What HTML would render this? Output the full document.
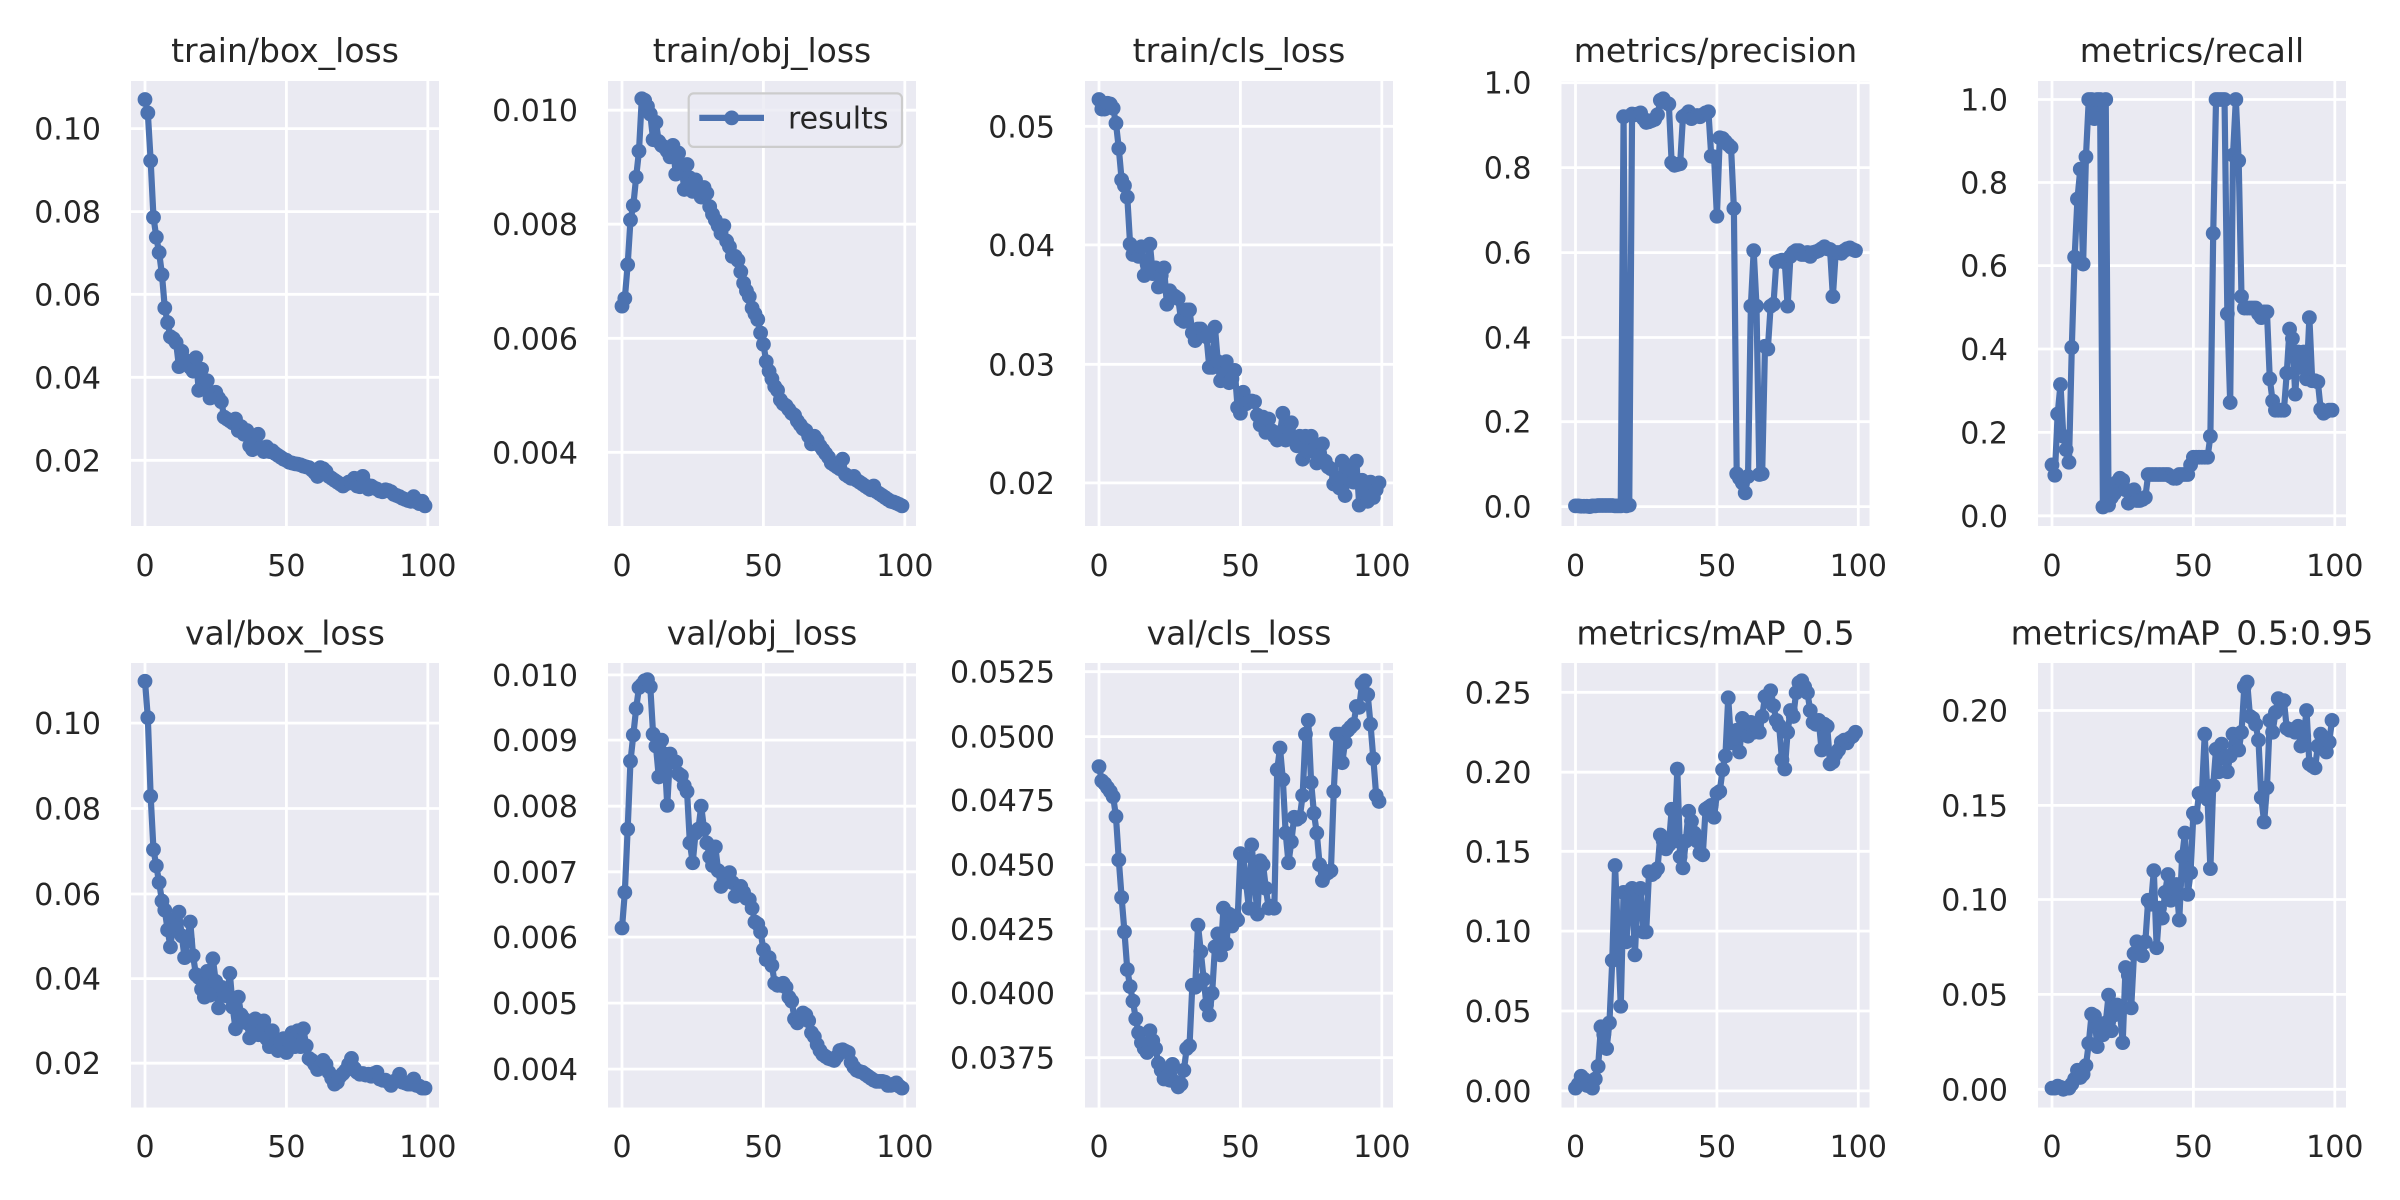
<!DOCTYPE html>
<html><head><meta charset="utf-8"><style>
html,body{margin:0;padding:0;background:#fff;}
svg{display:block;}
text{font-family:"DejaVu Sans","Liberation Sans",sans-serif;fill:#262626;}
.t{font-size:30px;}
.ti{font-size:33px;text-anchor:middle;}
.yl{text-anchor:end;}
.xl{text-anchor:middle;}
.bg{fill:#EAEAF2;}
.g{stroke:#fff;stroke-width:2.8;fill:none;}
.ln{fill:none;stroke:#4C72B0;stroke-width:6.2;stroke-linejoin:round;stroke-linecap:round;}
.mkt{fill:none;stroke:none;marker-start:url(#mt);marker-mid:url(#mt);marker-end:url(#mt);}
.mkb{fill:none;stroke:none;marker-start:url(#mb);marker-mid:url(#mb);marker-end:url(#mb);}
</style></head><body>
<svg width="2400" height="1200" viewBox="0 0 2400 1200" xmlns="http://www.w3.org/2000/svg">
<defs>
<marker id="mt" markerUnits="userSpaceOnUse" overflow="visible" refX="0" refY="0" markerWidth="1" markerHeight="1" orient="0"><ellipse cx="0" cy="0" rx="2.62" ry="19.35" fill="#4C72B0"/></marker>
<marker id="mb" markerUnits="userSpaceOnUse" overflow="visible" refX="0" refY="0" markerWidth="1" markerHeight="1" orient="0"><ellipse cx="0" cy="0" rx="2.62" ry="18.72" fill="#4C72B0"/></marker>
</defs>
<rect width="2400" height="1200" fill="#fff"/>

<!-- ============ P1 train/box_loss ============ -->
<rect class="bg" x="131" y="81" width="308" height="445"/>
<path class="g" d="M131 128.6H439M131 211.6H439M131 294.3H439M131 377.3H439M131 460.3H439M145 81V526M286.4 81V526M427.8 81V526"/>
<text class="t yl" x="101" y="139.6">0.10</text>
<text class="t yl" x="101" y="222.6">0.08</text>
<text class="t yl" x="101" y="305.3">0.06</text>
<text class="t yl" x="101" y="388.3">0.04</text>
<text class="t yl" x="101" y="471.3">0.02</text>
<text class="t xl" x="145" y="576">0</text>
<text class="t xl" x="286.4" y="576">50</text>
<text class="t xl" x="427.8" y="576">100</text>
<text class="ti" x="285" y="62">train/box_loss</text>
<g transform="translate(145,0) scale(2.8283,0.38266)">
<polyline class="ln" vector-effect="non-scaling-stroke" points="0,260 1,295 2,420 3,568 4,620 5,660 6,718 7,805 8,843 9,880 10,885 11,895 12,958 13,918 14,940 15,950 16,960 17,970 18,935 19,1020 20,965 21,1010 22,995 23,1040 24,1030 25,1025 26,1040 27,1050 28,1090 29,1095 30,1100 31,1105 32,1095 33,1125 34,1115 35,1135 36,1125 37,1165 38,1175 39,1150 40,1135 41,1170 42,1180 43,1168 44,1180 45,1178 46,1185 47,1190 48,1195 49,1200 50,1203 51,1208 52,1210 53,1212 54,1213 55,1215 56,1218 57,1220 58,1222 59,1228 60,1235 61,1245 62,1222 63,1225 64,1232 65,1245 66,1250 67,1255 68,1260 69,1265 70,1270 71,1265 72,1260 73,1262 74,1250 75,1270 76,1272 77,1245 78,1265 79,1278 80,1270 81,1275 82,1278 83,1283 84,1285 85,1280 86,1282 87,1285 88,1292 89,1295 90,1298 91,1302 92,1305 93,1308 94,1310 95,1298 96,1312 97,1316 98,1310 99,1322"/>
<polyline class="mkt" points="0,260 1,295 2,420 3,568 4,620 5,660 6,718 7,805 8,843 9,880 10,885 11,895 12,958 13,918 14,940 15,950 16,960 17,970 18,935 19,1020 20,965 21,1010 22,995 23,1040 24,1030 25,1025 26,1040 27,1050 28,1090 29,1095 30,1100 31,1105 32,1095 33,1125 34,1115 35,1135 36,1125 37,1165 38,1175 39,1150 40,1135 41,1170 42,1180 43,1168 44,1180 45,1178 46,1185 47,1190 48,1195 49,1200 50,1203 51,1208 52,1210 53,1212 54,1213 55,1215 56,1218 57,1220 58,1222 59,1228 60,1235 61,1245 62,1222 63,1225 64,1232 65,1245 66,1250 67,1255 68,1260 69,1265 70,1270 71,1265 72,1260 73,1262 74,1250 75,1270 76,1272 77,1245 78,1265 79,1278 80,1270 81,1275 82,1278 83,1283 84,1285 85,1280 86,1282 87,1285 88,1292 89,1295 90,1298 91,1302 92,1305 93,1308 94,1310 95,1298 96,1312 97,1316 98,1310 99,1322"/>
</g>

<!-- ============ P2 train/obj_loss ============ -->
<rect class="bg" x="608" y="81" width="308" height="445"/>
<path class="g" d="M608 110.2H916M608 224.2H916M608 338.3H916M608 452.3H916M622 81V526M763.4 81V526M904.8 81V526"/>
<text class="t yl" x="578" y="121.2">0.010</text>
<text class="t yl" x="578" y="235.2">0.008</text>
<text class="t yl" x="578" y="349.3">0.006</text>
<text class="t yl" x="578" y="463.3">0.004</text>
<text class="t xl" x="622" y="576">0</text>
<text class="t xl" x="763.4" y="576">50</text>
<text class="t xl" x="904.8" y="576">100</text>
<text class="ti" x="762" y="62">train/obj_loss</text>
<g transform="translate(622,0) scale(2.8283,0.38266)">
<polyline class="ln" vector-effect="non-scaling-stroke" points="0,800 1,780 2,692 3,575 4,537 5,463 6,395 7,258 8,262 9,278 10,298 11,365 12,320 13,370 14,380 15,385 16,395 17,410 18,380 19,455 20,400 21,430 22,495 23,430 24,465 25,500 26,470 27,490 28,515 29,490 30,505 31,540 32,560 33,575 34,590 35,610 36,590 37,630 38,645 39,670 40,670 41,680 42,710 43,740 44,760 45,775 46,805 47,820 48,835 49,870 50,900 51,945 52,970 53,990 54,1010 55,1020 56,1045 57,1055 58,1060 59,1070 60,1080 61,1085 62,1100 63,1110 64,1120 65,1125 66,1140 67,1160 68,1140 69,1150 70,1165 71,1175 72,1185 73,1195 74,1210 75,1215 76,1220 77,1225 78,1200 79,1240 80,1245 81,1250 82,1245 83,1255 84,1260 85,1265 86,1270 87,1275 88,1280 89,1270 90,1285 91,1290 92,1295 93,1300 94,1305 95,1310 96,1312 97,1315 98,1318 99,1322"/>
<polyline class="mkt" points="0,800 1,780 2,692 3,575 4,537 5,463 6,395 7,258 8,262 9,278 10,298 11,365 12,320 13,370 14,380 15,385 16,395 17,410 18,380 19,455 20,400 21,430 22,495 23,430 24,465 25,500 26,470 27,490 28,515 29,490 30,505 31,540 32,560 33,575 34,590 35,610 36,590 37,630 38,645 39,670 40,670 41,680 42,710 43,740 44,760 45,775 46,805 47,820 48,835 49,870 50,900 51,945 52,970 53,990 54,1010 55,1020 56,1045 57,1055 58,1060 59,1070 60,1080 61,1085 62,1100 63,1110 64,1120 65,1125 66,1140 67,1160 68,1140 69,1150 70,1165 71,1175 72,1185 73,1195 74,1210 75,1215 76,1220 77,1225 78,1200 79,1240 80,1245 81,1250 82,1245 83,1255 84,1260 85,1265 86,1270 87,1275 88,1280 89,1270 90,1285 91,1290 92,1295 93,1300 94,1305 95,1310 96,1312 97,1315 98,1318 99,1322"/>
</g>
<rect x="688.7" y="93.4" width="213.3" height="53.5" rx="5" ry="5" fill="#EAEAF2" fill-opacity="0.8" stroke="#CCCCCC" stroke-width="2.2"/>
<line x1="699.3" y1="117.9" x2="764" y2="117.9" stroke="#4C72B0" stroke-width="6.2"/>
<circle cx="731.7" cy="117.9" r="7.4" fill="#4C72B0"/>
<text class="t" x="788" y="128.5">results</text>

<!-- ============ P3 train/cls_loss ============ -->
<rect class="bg" x="1085" y="81" width="308" height="445"/>
<path class="g" d="M1085 126.3H1393M1085 244.9H1393M1085 364.3H1393M1085 482.9H1393M1099 81V526M1240.4 81V526M1381.8 81V526"/>
<text class="t yl" x="1055" y="137.3">0.05</text>
<text class="t yl" x="1055" y="255.9">0.04</text>
<text class="t yl" x="1055" y="375.3">0.03</text>
<text class="t yl" x="1055" y="493.9">0.02</text>
<text class="t xl" x="1099" y="576">0</text>
<text class="t xl" x="1240.4" y="576">50</text>
<text class="t xl" x="1381.8" y="576">100</text>
<text class="ti" x="1239" y="62">train/cls_loss</text>
<g transform="translate(1099,0) scale(2.8283,0.38266)">
<polyline class="ln" vector-effect="non-scaling-stroke" points="0,260 1,285 2,285 3,270 4,272 5,283 6,322 7,388 8,470 9,485 10,515 11,638 12,665 13,650 14,670 15,645 16,720 17,690 18,638 19,715 20,700 21,750 22,720 23,700 24,795 25,760 26,770 27,775 28,780 29,835 30,840 31,810 32,810 33,870 34,890 35,860 36,860 37,870 38,880 39,960 40,960 41,855 42,945 43,995 44,975 45,945 46,1000 47,990 48,968 49,1065 50,1080 51,1025 52,1055 53,1050 54,1048 55,1050 56,1085 57,1110 58,1090 59,1130 60,1095 61,1125 62,1140 63,1150 64,1130 65,1080 66,1150 67,1120 68,1105 69,1150 70,1165 71,1140 72,1200 73,1140 74,1180 75,1140 76,1175 77,1210 78,1190 79,1160 80,1205 81,1220 82,1225 83,1265 84,1250 85,1275 86,1205 87,1295 88,1250 89,1225 90,1260 91,1205 92,1320 93,1255 94,1280 95,1310 96,1260 97,1300 98,1280 99,1262"/>
<polyline class="mkt" points="0,260 1,285 2,285 3,270 4,272 5,283 6,322 7,388 8,470 9,485 10,515 11,638 12,665 13,650 14,670 15,645 16,720 17,690 18,638 19,715 20,700 21,750 22,720 23,700 24,795 25,760 26,770 27,775 28,780 29,835 30,840 31,810 32,810 33,870 34,890 35,860 36,860 37,870 38,880 39,960 40,960 41,855 42,945 43,995 44,975 45,945 46,1000 47,990 48,968 49,1065 50,1080 51,1025 52,1055 53,1050 54,1048 55,1050 56,1085 57,1110 58,1090 59,1130 60,1095 61,1125 62,1140 63,1150 64,1130 65,1080 66,1150 67,1120 68,1105 69,1150 70,1165 71,1140 72,1200 73,1140 74,1180 75,1140 76,1175 77,1210 78,1190 79,1160 80,1205 81,1220 82,1225 83,1265 84,1250 85,1275 86,1205 87,1295 88,1250 89,1225 90,1260 91,1205 92,1320 93,1255 94,1280 95,1310 96,1260 97,1300 98,1280 99,1262"/>
</g>

<!-- ============ P4 metrics/precision ============ -->
<rect class="bg" x="1561.5" y="81" width="308" height="445"/>
<path class="g" d="M1561.5 82.7H1869.5M1561.5 167.6H1869.5M1561.5 252.6H1869.5M1561.5 337.5H1869.5M1561.5 421.7H1869.5M1561.5 506.6H1869.5M1575.5 81V526M1716.9 81V526M1858.3 81V526"/>
<text class="t yl" x="1531.5" y="93.7">1.0</text>
<text class="t yl" x="1531.5" y="178.6">0.8</text>
<text class="t yl" x="1531.5" y="263.6">0.6</text>
<text class="t yl" x="1531.5" y="348.5">0.4</text>
<text class="t yl" x="1531.5" y="432.7">0.2</text>
<text class="t yl" x="1531.5" y="517.6">0.0</text>
<text class="t xl" x="1575.5" y="576">0</text>
<text class="t xl" x="1716.9" y="576">50</text>
<text class="t xl" x="1858.3" y="576">100</text>
<text class="ti" x="1715.5" y="62">metrics/precision</text>
<g transform="translate(1575.5,0) scale(2.8283,0.38266)">
<polyline class="ln" vector-effect="non-scaling-stroke" points="0,1322 1,1322 2,1323 3,1323 4,1323 5,1324 6,1322 7,1322 8,1321 9,1321 10,1321 11,1321 12,1321 13,1321 14,1322 15,1322 16,1322 17,305 18,1322 19,1320 20,298 21,300 22,298 23,295 24,310 25,320 26,318 27,315 28,312 29,300 30,262 31,258 32,268 33,272 34,425 35,432 36,430 37,428 38,305 39,300 40,292 41,310 42,305 43,302 44,305 45,300 46,295 47,292 48,408 49,410 50,565 51,360 52,362 53,370 54,378 55,385 56,545 57,1238 58,1250 59,1262 60,1288 61,1245 62,800 63,655 64,800 65,1240 66,1238 67,905 68,912 69,800 70,795 71,685 72,682 73,680 74,685 75,800 76,670 77,660 78,655 79,655 80,665 81,665 82,660 83,670 84,660 85,658 86,655 87,650 88,645 89,650 90,652 91,775 92,660 93,660 94,662 95,655 96,650 97,648 98,652 99,655"/>
<polyline class="mkt" points="0,1322 1,1322 2,1323 3,1323 4,1323 5,1324 6,1322 7,1322 8,1321 9,1321 10,1321 11,1321 12,1321 13,1321 14,1322 15,1322 16,1322 17,305 18,1322 19,1320 20,298 21,300 22,298 23,295 24,310 25,320 26,318 27,315 28,312 29,300 30,262 31,258 32,268 33,272 34,425 35,432 36,430 37,428 38,305 39,300 40,292 41,310 42,305 43,302 44,305 45,300 46,295 47,292 48,408 49,410 50,565 51,360 52,362 53,370 54,378 55,385 56,545 57,1238 58,1250 59,1262 60,1288 61,1245 62,800 63,655 64,800 65,1240 66,1238 67,905 68,912 69,800 70,795 71,685 72,682 73,680 74,685 75,800 76,670 77,660 78,655 79,655 80,665 81,665 82,660 83,670 84,660 85,658 86,655 87,650 88,645 89,650 90,652 91,775 92,660 93,660 94,662 95,655 96,650 97,648 98,652 99,655"/>
</g>

<!-- ============ P5 metrics/recall ============ -->
<rect class="bg" x="2038" y="81" width="308" height="445"/>
<path class="g" d="M2038 99.5H2346M2038 182.5H2346M2038 265.6H2346M2038 349H2346M2038 432.4H2346M2038 515.8H2346M2052 81V526M2193.4 81V526M2334.8 81V526"/>
<text class="t yl" x="2008" y="110.5">1.0</text>
<text class="t yl" x="2008" y="193.5">0.8</text>
<text class="t yl" x="2008" y="276.6">0.6</text>
<text class="t yl" x="2008" y="360">0.4</text>
<text class="t yl" x="2008" y="443.4">0.2</text>
<text class="t yl" x="2008" y="526.8">0.0</text>
<text class="t xl" x="2052" y="576">0</text>
<text class="t xl" x="2193.4" y="576">50</text>
<text class="t xl" x="2334.8" y="576">100</text>
<text class="ti" x="2192" y="62">metrics/recall</text>
<g transform="translate(2052,0) scale(2.8283,0.38266)">
<polyline class="ln" vector-effect="non-scaling-stroke" points="0,1215 1,1242 2,1082 3,1005 4,1140 5,1175 6,1208 7,908 8,672 9,520 10,442 11,690 12,410 13,260 14,260 15,310 16,260 17,260 18,1325 19,260 20,1320 21,1300 22,1290 23,1260 24,1250 25,1255 26,1280 27,1315 28,1295 29,1280 30,1308 31,1308 32,1305 33,1300 34,1240 35,1240 36,1240 37,1240 38,1240 39,1240 40,1240 41,1240 42,1245 43,1250 44,1250 45,1240 46,1240 47,1240 48,1240 49,1215 50,1195 51,1195 52,1195 53,1195 54,1195 55,1195 56,1140 57,610 58,260 59,260 60,260 61,260 62,820 63,1052 64,405 65,260 66,420 67,775 68,805 69,805 70,805 71,805 72,805 73,820 74,830 75,815 76,815 77,990 78,1048 79,1072 80,1072 81,1072 82,1072 83,975 84,860 85,885 86,1030 87,920 88,960 89,920 90,990 91,830 92,995 93,995 94,998 95,1070 96,1080 97,1075 98,1072 99,1072"/>
<polyline class="mkt" points="0,1215 1,1242 2,1082 3,1005 4,1140 5,1175 6,1208 7,908 8,672 9,520 10,442 11,690 12,410 13,260 14,260 15,310 16,260 17,260 18,1325 19,260 20,1320 21,1300 22,1290 23,1260 24,1250 25,1255 26,1280 27,1315 28,1295 29,1280 30,1308 31,1308 32,1305 33,1300 34,1240 35,1240 36,1240 37,1240 38,1240 39,1240 40,1240 41,1240 42,1245 43,1250 44,1250 45,1240 46,1240 47,1240 48,1240 49,1215 50,1195 51,1195 52,1195 53,1195 54,1195 55,1195 56,1140 57,610 58,260 59,260 60,260 61,260 62,820 63,1052 64,405 65,260 66,420 67,775 68,805 69,805 70,805 71,805 72,805 73,820 74,830 75,815 76,815 77,990 78,1048 79,1072 80,1072 81,1072 82,1072 83,975 84,860 85,885 86,1030 87,920 88,960 89,920 90,990 91,830 92,995 93,995 94,998 95,1070 96,1080 97,1075 98,1072 99,1072"/>
</g>

<!-- ============ P6 val/box_loss ============ -->
<rect class="bg" x="131" y="663" width="308" height="444.5"/>
<path class="g" d="M131 723.1H439M131 808.5H439M131 894H439M131 978.6H439M131 1063.2H439M145 663V1107.5M286.4 663V1107.5M427.8 663V1107.5"/>
<text class="t yl" x="101" y="734.1">0.10</text>
<text class="t yl" x="101" y="819.5">0.08</text>
<text class="t yl" x="101" y="905">0.06</text>
<text class="t yl" x="101" y="989.6">0.04</text>
<text class="t yl" x="101" y="1074.2">0.02</text>
<text class="t xl" x="145" y="1157">0</text>
<text class="t xl" x="286.4" y="1157">50</text>
<text class="t xl" x="427.8" y="1157">100</text>
<text class="ti" x="285" y="644.5">val/box_loss</text>
<g transform="translate(145,580) scale(2.8283,0.39541)">
<polyline class="ln" vector-effect="non-scaling-stroke" points="0,256 1,348 2,547 3,682 4,723 5,765 6,812 7,835 8,885 9,928 10,860 11,880 12,840 13,900 14,955 15,910 16,865 17,950 18,998 19,1005 20,1035 21,1055 22,990 23,1050 24,958 25,1015 26,1082 27,1030 28,1045 29,1052 30,995 31,1080 32,1135 33,1055 34,1100 35,1110 36,1120 37,1158 38,1135 39,1110 40,1150 41,1120 42,1115 43,1160 44,1180 45,1140 46,1175 47,1190 48,1170 49,1160 50,1195 51,1165 52,1145 53,1180 54,1140 55,1180 56,1135 57,1178 58,1210 59,1215 60,1225 61,1238 62,1230 63,1215 64,1225 65,1245 66,1260 67,1275 68,1270 69,1255 70,1248 71,1240 72,1225 73,1210 74,1235 75,1245 76,1250 77,1248 78,1252 79,1250 80,1255 81,1248 82,1245 83,1262 84,1265 85,1265 86,1270 87,1278 88,1268 89,1265 90,1250 91,1270 92,1272 93,1275 94,1275 95,1262 96,1278 97,1280 98,1285 99,1285"/>
<polyline class="mkb" points="0,256 1,348 2,547 3,682 4,723 5,765 6,812 7,835 8,885 9,928 10,860 11,880 12,840 13,900 14,955 15,910 16,865 17,950 18,998 19,1005 20,1035 21,1055 22,990 23,1050 24,958 25,1015 26,1082 27,1030 28,1045 29,1052 30,995 31,1080 32,1135 33,1055 34,1100 35,1110 36,1120 37,1158 38,1135 39,1110 40,1150 41,1120 42,1115 43,1160 44,1180 45,1140 46,1175 47,1190 48,1170 49,1160 50,1195 51,1165 52,1145 53,1180 54,1140 55,1180 56,1135 57,1178 58,1210 59,1215 60,1225 61,1238 62,1230 63,1215 64,1225 65,1245 66,1260 67,1275 68,1270 69,1255 70,1248 71,1240 72,1225 73,1210 74,1235 75,1245 76,1250 77,1248 78,1252 79,1250 80,1255 81,1248 82,1245 83,1262 84,1265 85,1265 86,1270 87,1278 88,1268 89,1265 90,1250 91,1270 92,1272 93,1275 94,1275 95,1262 96,1278 97,1280 98,1285 99,1285"/>
</g>

<!-- ============ P7 val/obj_loss ============ -->
<rect class="bg" x="608" y="663" width="308" height="444.5"/>
<path class="g" d="M608 674.9H916M608 740.1H916M608 806.2H916M608 871.8H916M608 937.1H916M608 1003.1H916M608 1069.1H916M622 663V1107.5M763.4 663V1107.5M904.8 663V1107.5"/>
<text class="t yl" x="578" y="685.9">0.010</text>
<text class="t yl" x="578" y="751.1">0.009</text>
<text class="t yl" x="578" y="817.2">0.008</text>
<text class="t yl" x="578" y="882.8">0.007</text>
<text class="t yl" x="578" y="948.1">0.006</text>
<text class="t yl" x="578" y="1014.1">0.005</text>
<text class="t yl" x="578" y="1080.1">0.004</text>
<text class="t xl" x="622" y="1157">0</text>
<text class="t xl" x="763.4" y="1157">50</text>
<text class="t xl" x="904.8" y="1157">100</text>
<text class="ti" x="762" y="644.5">val/obj_loss</text>
<g transform="translate(622,580) scale(2.8283,0.39541)">
<polyline class="ln" vector-effect="non-scaling-stroke" points="0,880 1,790 2,630 3,458 4,392 5,325 6,272 7,265 8,255 9,252 10,270 11,390 12,420 13,498 14,405 15,440 16,570 17,440 18,460 19,460 20,490 21,495 22,520 23,535 24,665 25,715 26,640 27,630 28,572 29,630 30,665 31,700 32,722 33,675 34,735 35,775 36,745 37,752 38,740 39,765 40,800 41,790 42,775 43,790 44,805 45,808 46,830 47,865 48,870 49,890 50,935 51,960 52,955 53,975 54,1020 55,1025 56,1025 57,1020 58,1030 59,1055 60,1065 61,1110 62,1120 63,1110 64,1095 65,1100 66,1115 67,1145 68,1155 69,1175 70,1190 71,1200 72,1205 73,1210 74,1212 75,1215 76,1205 77,1190 78,1188 79,1192 80,1195 81,1220 82,1232 83,1240 84,1243 85,1245 86,1250 87,1255 88,1260 89,1265 90,1268 91,1268 92,1268 93,1270 94,1278 95,1278 96,1275 97,1272 98,1280 99,1285"/>
<polyline class="mkb" points="0,880 1,790 2,630 3,458 4,392 5,325 6,272 7,265 8,255 9,252 10,270 11,390 12,420 13,498 14,405 15,440 16,570 17,440 18,460 19,460 20,490 21,495 22,520 23,535 24,665 25,715 26,640 27,630 28,572 29,630 30,665 31,700 32,722 33,675 34,735 35,775 36,745 37,752 38,740 39,765 40,800 41,790 42,775 43,790 44,805 45,808 46,830 47,865 48,870 49,890 50,935 51,960 52,955 53,975 54,1020 55,1025 56,1025 57,1020 58,1030 59,1055 60,1065 61,1110 62,1120 63,1110 64,1095 65,1100 66,1115 67,1145 68,1155 69,1175 70,1190 71,1200 72,1205 73,1210 74,1212 75,1215 76,1205 77,1190 78,1188 79,1192 80,1195 81,1220 82,1232 83,1240 84,1243 85,1245 86,1250 87,1255 88,1260 89,1265 90,1268 91,1268 92,1268 93,1270 94,1278 95,1278 96,1275 97,1272 98,1280 99,1285"/>
</g>

<!-- ============ P8 val/cls_loss ============ -->
<rect class="bg" x="1085" y="663" width="308" height="444.5"/>
<path class="g" d="M1085 671.7H1393M1085 736.6H1393M1085 800.2H1393M1085 864.7H1393M1085 928.8H1393M1085 993.2H1393M1085 1057.7H1393M1099 663V1107.5M1240.4 663V1107.5M1381.8 663V1107.5"/>
<text class="t yl" x="1055" y="682.7">0.0525</text>
<text class="t yl" x="1055" y="747.6">0.0500</text>
<text class="t yl" x="1055" y="811.2">0.0475</text>
<text class="t yl" x="1055" y="875.7">0.0450</text>
<text class="t yl" x="1055" y="939.8">0.0425</text>
<text class="t yl" x="1055" y="1004.2">0.0400</text>
<text class="t yl" x="1055" y="1068.7">0.0375</text>
<text class="t xl" x="1099" y="1157">0</text>
<text class="t xl" x="1240.4" y="1157">50</text>
<text class="t xl" x="1381.8" y="1157">100</text>
<text class="ti" x="1239" y="644.5">val/cls_loss</text>
<g transform="translate(1099,580) scale(2.8283,0.39541)">
<polyline class="ln" vector-effect="non-scaling-stroke" points="0,472 1,508 2,515 3,525 4,535 5,548 6,598 7,708 8,803 9,890 10,985 11,1028 12,1065 13,1110 14,1145 15,1170 16,1185 17,1195 18,1140 19,1165 20,1185 21,1222 22,1240 23,1262 24,1255 25,1265 26,1225 27,1270 28,1282 29,1275 30,1240 31,1185 32,1178 33,1025 34,1030 35,873 36,940 37,1010 38,1075 39,1100 40,1045 41,928 42,895 43,948 44,830 45,920 46,845 47,875 48,850 49,860 50,692 51,700 52,765 53,830 54,670 55,762 56,845 57,710 58,720 59,780 60,830 61,825 62,830 63,480 64,425 65,505 66,640 67,715 68,662 69,600 70,605 71,600 72,545 73,390 74,355 75,512 76,590 77,640 78,720 79,760 80,745 81,740 82,735 83,535 84,390 85,390 86,462 87,410 88,380 89,372 90,365 91,320 92,322 93,262 94,255 95,290 96,365 97,452 98,545 99,560"/>
<polyline class="mkb" points="0,472 1,508 2,515 3,525 4,535 5,548 6,598 7,708 8,803 9,890 10,985 11,1028 12,1065 13,1110 14,1145 15,1170 16,1185 17,1195 18,1140 19,1165 20,1185 21,1222 22,1240 23,1262 24,1255 25,1265 26,1225 27,1270 28,1282 29,1275 30,1240 31,1185 32,1178 33,1025 34,1030 35,873 36,940 37,1010 38,1075 39,1100 40,1045 41,928 42,895 43,948 44,830 45,920 46,845 47,875 48,850 49,860 50,692 51,700 52,765 53,830 54,670 55,762 56,845 57,710 58,720 59,780 60,830 61,825 62,830 63,480 64,425 65,505 66,640 67,715 68,662 69,600 70,605 71,600 72,545 73,390 74,355 75,512 76,590 77,640 78,720 79,760 80,745 81,740 82,735 83,535 84,390 85,390 86,462 87,410 88,380 89,372 90,365 91,320 92,322 93,262 94,255 95,290 96,365 97,452 98,545 99,560"/>
</g>

<!-- ============ P9 metrics/mAP_0.5 ============ -->
<rect class="bg" x="1561.5" y="663" width="308" height="444.5"/>
<path class="g" d="M1561.5 692.3H1869.5M1561.5 772.2H1869.5M1561.5 851.3H1869.5M1561.5 931.1H1869.5M1561.5 1011H1869.5M1561.5 1090.9H1869.5M1575.5 663V1107.5M1716.9 663V1107.5M1858.3 663V1107.5"/>
<text class="t yl" x="1531.5" y="703.3">0.25</text>
<text class="t yl" x="1531.5" y="783.2">0.20</text>
<text class="t yl" x="1531.5" y="862.3">0.15</text>
<text class="t yl" x="1531.5" y="942.1">0.10</text>
<text class="t yl" x="1531.5" y="1022">0.05</text>
<text class="t yl" x="1531.5" y="1101.9">0.00</text>
<text class="t xl" x="1575.5" y="1157">0</text>
<text class="t xl" x="1716.9" y="1157">50</text>
<text class="t xl" x="1858.3" y="1157">100</text>
<text class="ti" x="1715.5" y="644.5">metrics/mAP_0.5</text>
<g transform="translate(1575.5,580) scale(2.8283,0.39541)">
<polyline class="ln" vector-effect="non-scaling-stroke" points="0,1285 1,1275 2,1255 3,1262 4,1278 5,1280 6,1285 7,1262 8,1230 9,1130 10,1150 11,1185 12,1120 13,962 14,722 15,900 16,1078 17,790 18,915 19,800 20,780 21,948 22,790 23,780 24,890 25,890 26,738 27,745 28,740 29,730 30,645 31,660 32,680 33,670 34,580 35,660 36,478 37,700 38,728 39,660 40,585 41,610 42,640 43,660 44,690 45,695 46,580 47,575 48,570 49,600 50,540 51,535 52,480 53,445 54,298 55,412 56,400 57,380 58,435 59,350 60,360 61,395 62,360 63,385 64,370 65,385 66,345 67,295 68,300 69,280 70,318 71,355 72,368 73,455 74,478 75,385 76,330 77,345 78,285 79,260 80,255 81,270 82,285 83,330 84,360 85,365 86,355 87,430 88,365 89,370 90,465 91,460 92,440 93,430 94,410 95,405 96,412 97,400 98,395 99,385"/>
<polyline class="mkb" points="0,1285 1,1275 2,1255 3,1262 4,1278 5,1280 6,1285 7,1262 8,1230 9,1130 10,1150 11,1185 12,1120 13,962 14,722 15,900 16,1078 17,790 18,915 19,800 20,780 21,948 22,790 23,780 24,890 25,890 26,738 27,745 28,740 29,730 30,645 31,660 32,680 33,670 34,580 35,660 36,478 37,700 38,728 39,660 40,585 41,610 42,640 43,660 44,690 45,695 46,580 47,575 48,570 49,600 50,540 51,535 52,480 53,445 54,298 55,412 56,400 57,380 58,435 59,350 60,360 61,395 62,360 63,385 64,370 65,385 66,345 67,295 68,300 69,280 70,318 71,355 72,368 73,455 74,478 75,385 76,330 77,345 78,285 79,260 80,255 81,270 82,285 83,330 84,360 85,365 86,355 87,430 88,365 89,370 90,465 91,460 92,440 93,430 94,410 95,405 96,412 97,400 98,395 99,385"/>
</g>

<!-- ============ P10 metrics/mAP_0.5:0.95 ============ -->
<rect class="bg" x="2038" y="663" width="308" height="444.5"/>
<path class="g" d="M2038 710.5H2346M2038 805.4H2346M2038 899.5H2346M2038 994.4H2346M2038 1089.3H2346M2052 663V1107.5M2193.4 663V1107.5M2334.8 663V1107.5"/>
<text class="t yl" x="2008" y="721.5">0.20</text>
<text class="t yl" x="2008" y="816.4">0.15</text>
<text class="t yl" x="2008" y="910.5">0.10</text>
<text class="t yl" x="2008" y="1005.4">0.05</text>
<text class="t yl" x="2008" y="1100.3">0.00</text>
<text class="t xl" x="2052" y="1157">0</text>
<text class="t xl" x="2193.4" y="1157">50</text>
<text class="t xl" x="2334.8" y="1157">100</text>
<text class="ti" x="2192" y="644.5">metrics/mAP_0.5:0.95</text>
<g transform="translate(2052,580) scale(2.8283,0.39541)">
<polyline class="ln" vector-effect="non-scaling-stroke" points="0,1285 1,1285 2,1280 3,1283 4,1288 5,1285 6,1285 7,1275 8,1262 9,1240 10,1258 11,1250 12,1228 13,1172 14,1098 15,1102 16,1180 17,1125 18,1150 19,1120 20,1050 21,1140 22,1100 23,1075 24,1090 25,1170 26,980 27,1000 28,1082 29,945 30,915 31,930 32,950 33,915 34,810 35,820 36,735 37,930 38,830 39,855 40,790 41,745 42,810 43,780 44,770 45,860 46,700 47,640 48,795 49,740 50,590 51,600 52,540 53,540 54,390 55,555 56,730 57,520 58,428 59,485 60,415 61,450 62,485 63,445 64,390 65,420 66,430 67,385 68,270 69,258 70,345 71,350 72,365 73,405 74,550 75,612 76,525 77,355 78,385 79,335 80,300 81,310 82,305 83,375 84,380 85,378 86,385 87,370 88,420 89,395 90,330 91,465 92,470 93,475 94,420 95,390 96,410 97,435 98,410 99,355"/>
<polyline class="mkb" points="0,1285 1,1285 2,1280 3,1283 4,1288 5,1285 6,1285 7,1275 8,1262 9,1240 10,1258 11,1250 12,1228 13,1172 14,1098 15,1102 16,1180 17,1125 18,1150 19,1120 20,1050 21,1140 22,1100 23,1075 24,1090 25,1170 26,980 27,1000 28,1082 29,945 30,915 31,930 32,950 33,915 34,810 35,820 36,735 37,930 38,830 39,855 40,790 41,745 42,810 43,780 44,770 45,860 46,700 47,640 48,795 49,740 50,590 51,600 52,540 53,540 54,390 55,555 56,730 57,520 58,428 59,485 60,415 61,450 62,485 63,445 64,390 65,420 66,430 67,385 68,270 69,258 70,345 71,350 72,365 73,405 74,550 75,612 76,525 77,355 78,385 79,335 80,300 81,310 82,305 83,375 84,380 85,378 86,385 87,370 88,420 89,395 90,330 91,465 92,470 93,475 94,420 95,390 96,410 97,435 98,410 99,355"/>
</g>
</svg>
</body></html>
